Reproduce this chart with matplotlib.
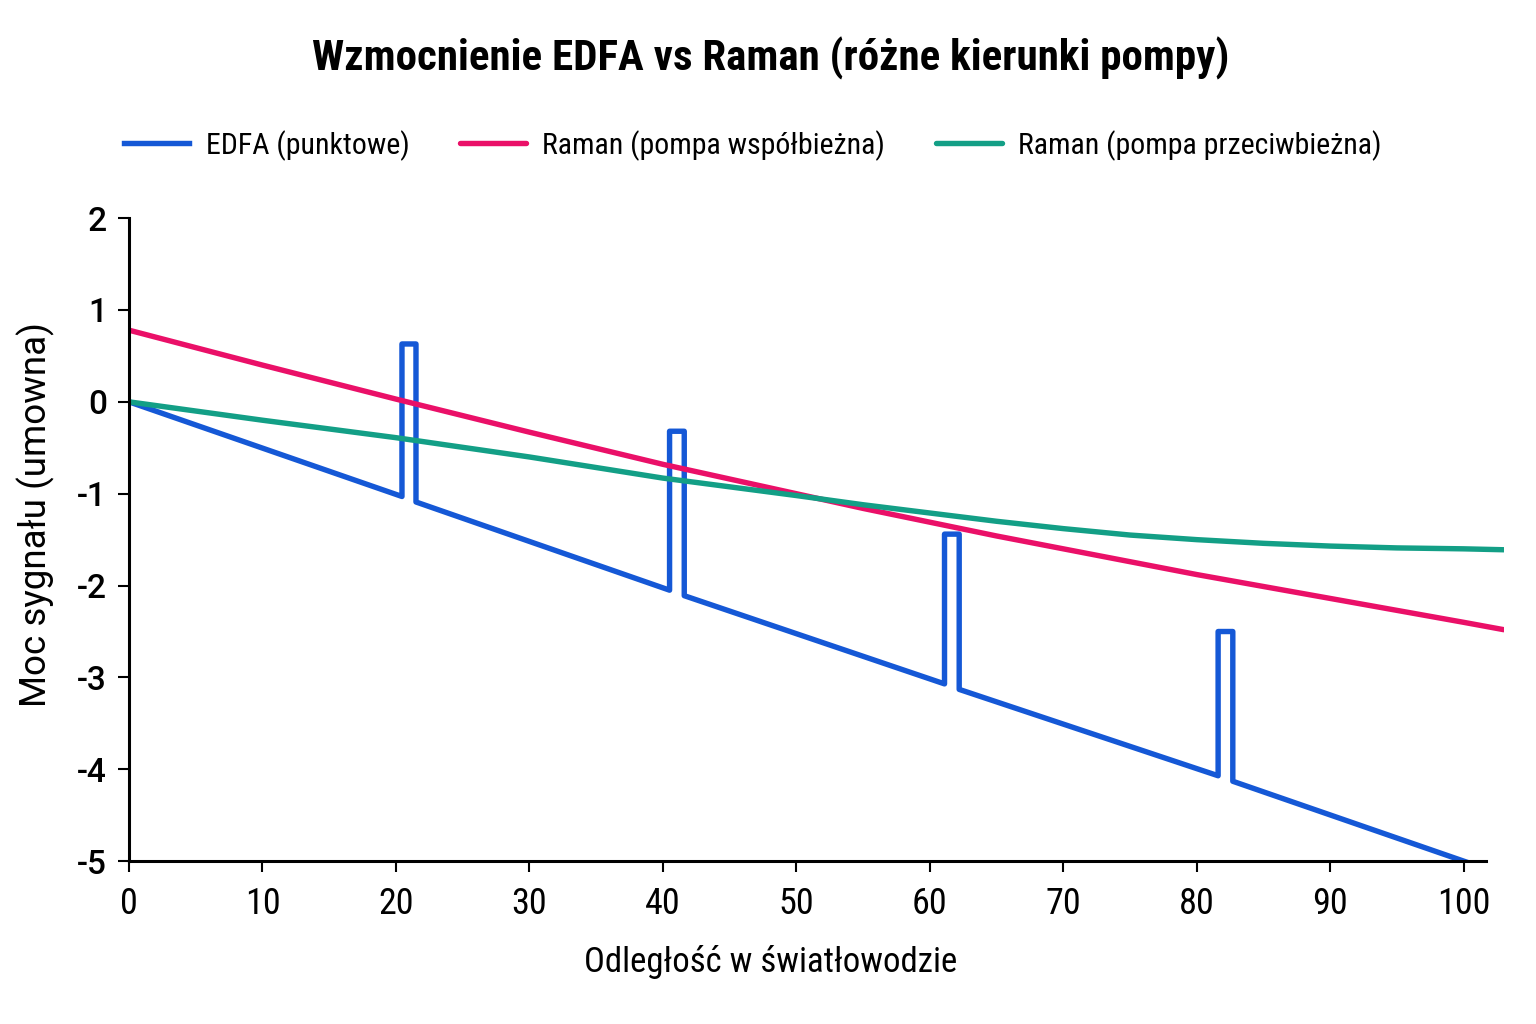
import matplotlib
matplotlib.use("Agg")
from matplotlib import pyplot as plt

# ---- data ----
edfa_x = [0, 20.45, 20.45, 21.5, 21.5, 40.5, 40.5, 41.6, 41.6, 61.1, 61.1, 62.2, 62.2,
          81.6, 81.6, 82.7, 82.7, 103]
edfa_y = [0, -1.03, 0.63, 0.63, -1.09, -2.05, -0.32, -0.32, -2.11, -3.07, -1.44, -1.44, -3.13,
          -4.07, -2.50, -2.50, -4.13, -5.15]

raman_x = [0, 10, 20, 30, 40, 50, 55, 60, 65, 70, 75, 80, 85, 90, 95, 100, 103]
raman_co_y = [0.78, 0.40, 0.03, -0.33, -0.68, -1.00, -1.16, -1.31, -1.46, -1.60, -1.74,
              -1.88, -2.01, -2.14, -2.27, -2.40, -2.48]
raman_counter_y = [0.0, -0.20, -0.39, -0.60, -0.83, -1.02, -1.12, -1.21, -1.30, -1.38, -1.45,
                   -1.50, -1.54, -1.57, -1.59, -1.60, -1.61]

labels = ['EDFA (punktowe)', 'Raman (pompa współbieżna)', 'Raman (pompa przeciwbieżna)']
colors = ['#1558d6', '#ea1068', '#139f86']

cond = ['Roboto Condensed', 'Roboto', 'DejaVu Sans']
reg = ['Roboto', 'DejaVu Sans']
plt.rcParams['axes.unicode_minus'] = False

fig = plt.figure(figsize=(15.36, 10.24), dpi=100)
ax = fig.add_axes([0.084, 0.159, 0.895, 0.628])

lw = 3.9
ax.plot(edfa_x, edfa_y, color=colors[0], lw=lw, label=labels[0], solid_joinstyle='round')
ax.plot(raman_x, raman_co_y, color=colors[1], lw=lw, label=labels[1], solid_capstyle='round')
ax.plot(raman_x, raman_counter_y, color=colors[2], lw=lw, label=labels[2], solid_capstyle='round')

ax.set_xlim(0, 103)
ax.set_ylim(-5, 2)
ax.set_xticks(range(0, 101, 10))
ax.set_yticks(range(-5, 3))

for s in ['top', 'right']:
    ax.spines[s].set_visible(False)
ax.spines['bottom'].set_bounds(0, 101.7)
for s in ['left', 'bottom']:
    ax.spines[s].set_linewidth(2.2)
ax.tick_params(axis='both', direction='out', length=8, width=1.5)
for t in ax.get_xticklabels():
    t.set_fontfamily(cond)
    t.set_fontsize(26)
for t in ax.get_yticklabels():
    t.set_fontfamily(reg)
    t.set_fontsize(24)
    t.set_fontweight('medium')
ax.tick_params(axis='x', pad=10)
ax.tick_params(axis='y', pad=8)

# axis titles are centred on the figure rather than on the axes
fig.text(0.502, 0.061, 'Odległość w światłowodzie', ha='center', va='center',
         family=cond, fontsize=25)
fig.text(0.023, 0.498, 'Moc sygnału (umowna)', ha='center', va='center', rotation=90,
         family=reg, fontsize=26.5)

fig.text(0.502, 0.943, 'Wzmocnienie EDFA vs Raman (różne kierunki pompy)',
         ha='center', va='center', family=cond, fontsize=31, fontweight='bold')

fig.legend(loc='center', bbox_to_anchor=(0.49, 0.858), ncol=3, frameon=False,
           prop={'family': cond, 'size': 21.5}, handlelength=2.2, handletextpad=0.55,
           columnspacing=1.7)

fig.savefig('out.png', dpi=100, facecolor='white')
